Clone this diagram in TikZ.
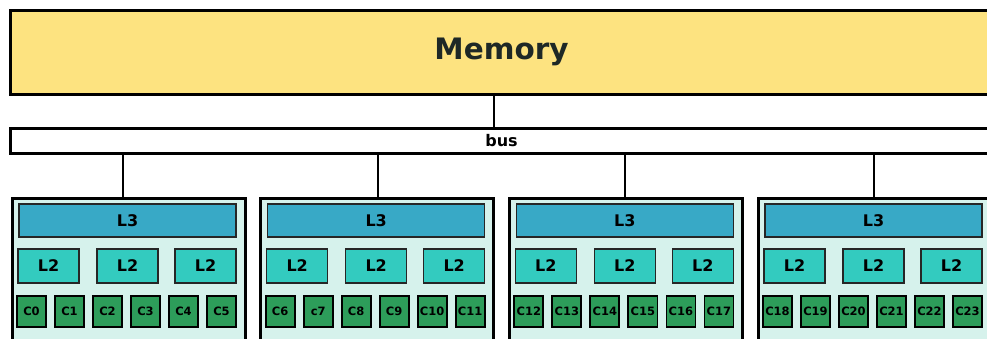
\documentclass[tikz,border=0pt]{standalone}
\usepackage{fontspec}
\setmainfont{DejaVu Sans}
\definecolor{memfill}{HTML}{FDE380}
\definecolor{clfill}{HTML}{D6F2EC}
\definecolor{lthreefill}{HTML}{38A9C6}
\definecolor{ltwofill}{HTML}{33CBBF}
\definecolor{corefill}{HTML}{2D9D5A}
\definecolor{memtext}{HTML}{1E2826}
\tikzset{
  box/.style={rectangle, inner sep=0pt, outer sep=0pt},
  membox/.style={box, draw=black, line width=3pt, fill=memfill, minimum width=983pt, minimum height=84pt,
    font=\fontsize{29.5}{32}\selectfont\bfseries, text=memtext},
  busbox/.style={box, draw=black, line width=3pt, fill=white, minimum width=983pt, minimum height=25pt,
    font=\fontsize{16}{18}\selectfont\bfseries},
  clusterbox/.style={box, draw=black, line width=3pt, fill=clfill, minimum width=233pt, minimum height=162pt},
  lthreebox/.style={box, draw=black!85, line width=1.5pt, fill=lthreefill, minimum width=217pt, minimum height=33pt,
    font=\fontsize{16}{18}\selectfont\bfseries},
  ltwobox/.style={box, draw=black!85, line width=1.5pt, fill=ltwofill, minimum width=61pt, minimum height=34pt,
    font=\fontsize{16}{18}\selectfont\bfseries},
  corebox/.style={box, draw=black, line width=1.7pt, fill=corefill, minimum width=29pt, minimum height=31pt,
    font=\fontsize{11.5}{13}\selectfont\bfseries},
  link/.style={draw=black, line width=2pt}
}
\begin{document}
\begin{tikzpicture}[x=1pt, y=-1pt]
\useasboundingbox (0,0) rectangle (987,338);
\clip (0,0) rectangle (987,338);
\node[membox] (mem) at (501.5,52) {Memory};
\node[busbox] (bus) at (501.5,140.5) {bus};
\coordinate (mtap) at (494,0);
\draw[link] (mtap |- mem.south) -- (mtap |- bus.north);
\foreach \k/\tx in {0/123,1/378,2/625,3/874} {
  \pgfmathsetmacro\L{12+248.67*\k}
  \node[clusterbox] (cl\k) at (\L+116.5,279) {};
  \coordinate (tap\k) at (\tx,0);
  \draw[link] (tap\k |- bus.south) -- (tap\k |- cl\k.north);
  \node[lthreebox] (lthree\k) at (\L+115.5,220.5) {L3};
  \foreach \j/\o in {0/36.5,1/115.5,2/193.5}
    \node[ltwobox] (ltwo\k\j) at (\L+\o,266) {L2};
}
\foreach \lab [count=\n from 0] in {C0,C1,C2,C3,C4,C5,C6,c7,C8,C9,C10,C11,C12,C13,C14,C15,C16,C17,C18,C19,C20,C21,C22,C23} {
  \pgfmathtruncatemacro\k{int(\n/6)}
  \pgfmathtruncatemacro\m{mod(\n,6)}
  \pgfmathsetmacro\L{12+248.67*\k}
  \node[corebox] (core\n) at (\L+19.5+38*\m,311.5) {\lab};
}
\end{tikzpicture}
\end{document}
